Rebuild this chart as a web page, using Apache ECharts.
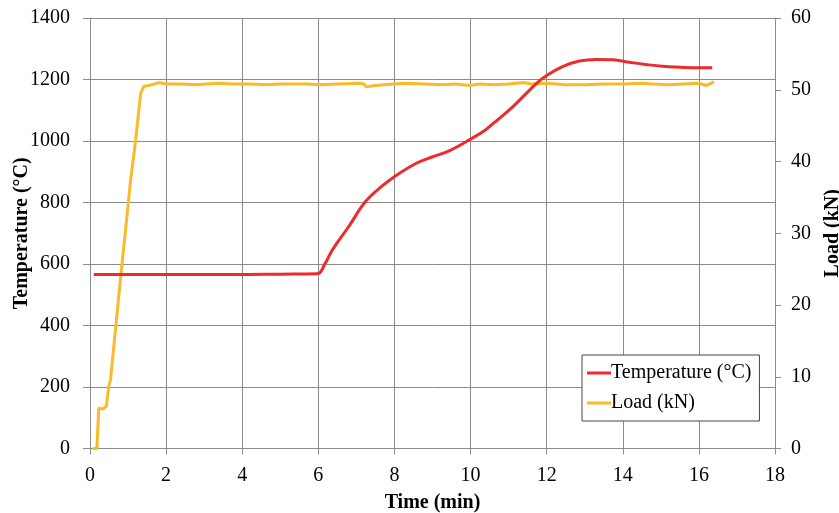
<!DOCTYPE html>
<html>
<head>
<meta charset="utf-8">
<script src="https://cdn.jsdelivr.net/npm/echarts@6/dist/echarts.min.js"></script>
<style>html,body{margin:0;padding:0;background:#fff}#c{width:839px;height:513px}</style>
</head>
<body>
<div id="c"></div>
<script>
const xTicks = [0, 2, 4, 6, 8, 10, 12, 14, 16, 18];
const tempTime = [0.1, 1, 2, 3, 4, 5, 5.97, 6.18, 6.37, 6.8, 7.24, 7.68, 8.0, 8.55, 8.99, 9.42, 10.0, 10.39, 10.74, 11.1, 11.72, 12.0, 12.42, 12.86, 13.3, 13.74, 14.18, 14.6, 15.04, 15.5, 16.0, 16.35];
const tempVal  = [566, 566, 566, 566, 566, 567, 568, 602, 646, 722, 803, 854, 884, 926, 948, 967, 1006, 1036, 1072, 1110, 1186, 1213, 1242, 1260, 1265, 1264, 1256, 1249, 1243, 1240, 1238, 1238];
const loadTime = [0.08, 0.18, 0.23, 0.34, 0.43, 0.49, 0.54, 0.8, 1.07, 1.2, 1.33, 1.42, 1.55, 1.81, 2.0, 2.4, 2.8, 3.33, 3.8, 4.2, 4.64, 5.0, 5.34, 5.7, 6.04, 6.5, 7.09, 7.2, 7.26, 7.5, 7.96, 8.31, 8.8, 9.27, 9.6, 9.98, 10.24, 10.6, 11.0, 11.4, 11.6, 12.0, 12.5, 13.0, 13.5, 14.0, 14.5, 14.8, 15.2, 15.6, 16.0, 16.2, 16.4];
const loadVal  = [0, 0, 5.6, 5.5, 5.9, 8.6, 9.6, 23.6, 37.5, 43, 49.5, 50.5, 50.6, 51.0, 50.8, 50.8, 50.7, 50.9, 50.8, 50.8, 50.7, 50.8, 50.8, 50.8, 50.7, 50.8, 50.9, 50.8, 50.4, 50.6, 50.8, 50.9, 50.8, 50.7, 50.8, 50.6, 50.8, 50.7, 50.8, 51.0, 50.8, 50.9, 50.7, 50.7, 50.8, 50.8, 50.9, 50.8, 50.7, 50.8, 50.9, 50.6, 51.1];
const seriesNames = ['Temperature (°C)', 'Load (kN)'];
const axisTitles = { x: 'Time (min)', yLeft: 'Temperature (°C)', yRight: 'Load (kN)' };

const font = 'Liberation Serif';
const gridColor = '#8c8c8c';
const plain = v => String(v);
const chart = echarts.init(document.getElementById('c'), null, { renderer: 'canvas' });
chart.setOption({
  animation: false,
  backgroundColor: '#fff',
  grid: { left: 90, right: 64, top: 18, bottom: 64.5, containLabel: false, outerBoundsMode: 'none' },
  legend: {
    orient: 'vertical', left: 582, top: 355,
    padding: [8, 8, 8, 5],
    itemGap: 10, itemWidth: 24, itemHeight: 3,
    borderColor: '#444', borderWidth: 1, backgroundColor: '#fff',
    icon: 'rect',
    textStyle: { fontFamily: font, fontSize: 20, color: '#000', padding: [0, 0, 0, -5], lineHeight: 20 },
    data: seriesNames
  },
  xAxis: {
    type: 'value', min: 0, max: 18, interval: 2,
    name: axisTitles.x, nameLocation: 'middle', nameGap: 44, nameMoveOverlap: false,
    nameTextStyle: { fontFamily: font, fontSize: 20, fontWeight: 'bold', color: '#000' },
    axisLine: { lineStyle: { color: gridColor } },
    axisTick: { show: true, length: 6, lineStyle: { color: gridColor } },
    axisLabel: { fontFamily: font, fontSize: 20, color: '#000', margin: 17, formatter: plain },
    splitLine: { show: true, lineStyle: { color: gridColor, width: 1 } }
  },
  yAxis: [{
    type: 'value', min: 0, max: 1400, interval: 200,
    name: axisTitles.yLeft, nameLocation: 'middle', nameGap: 58, nameRotate: 90, nameMoveOverlap: false,
    nameTextStyle: { fontFamily: font, fontSize: 20, fontWeight: 'bold', color: '#000' },
    axisLine: { show: true, lineStyle: { color: gridColor } },
    axisTick: { show: true, length: 7, lineStyle: { color: gridColor } },
    axisLabel: { fontFamily: font, fontSize: 20, color: '#000', margin: 20, formatter: plain },
    splitLine: { show: true, lineStyle: { color: gridColor, width: 1 } }
  }, {
    type: 'value', min: 0, max: 60, interval: 10, position: 'right',
    name: axisTitles.yRight, nameLocation: 'middle', nameGap: 48, nameRotate: 90, nameMoveOverlap: false,
    nameTextStyle: { fontFamily: font, fontSize: 20, fontWeight: 'bold', color: '#000' },
    axisLine: { show: true, lineStyle: { color: gridColor } },
    axisTick: { show: true, length: 6, lineStyle: { color: gridColor } },
    axisLabel: { fontFamily: font, fontSize: 20, color: '#000', margin: 16, formatter: plain },
    splitLine: { show: false }
  }],
  series: [{
    name: seriesNames[0], type: 'line', yAxisIndex: 0,
    data: tempTime.map((t, i) => [t, tempVal[i]]),
    showSymbol: false, symbol: 'none', smooth: 0.4,
    lineStyle: { color: '#EE2A2A', width: 3 }, itemStyle: { color: '#EE2A2A' }, z: 3
  }, {
    name: seriesNames[1], type: 'line', yAxisIndex: 1,
    data: loadTime.map((t, i) => [t, loadVal[i]]),
    showSymbol: false, symbol: 'none',
    lineStyle: { color: '#FBBA2A', width: 3 }, itemStyle: { color: '#FBBA2A' }, z: 2
  }]
});
</script>
</body>
</html>
